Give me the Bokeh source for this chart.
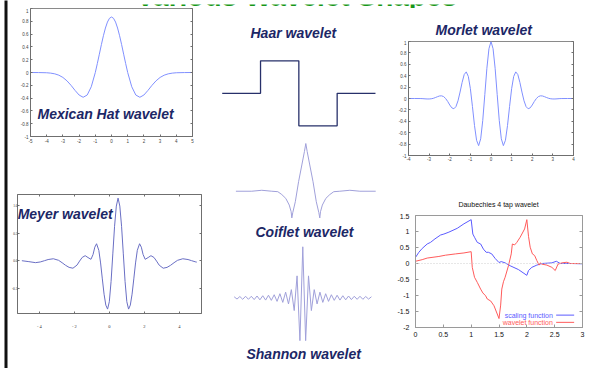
from bokeh.plotting import figure
from bokeh.models import Label, Span, LinearAxis, FixedTicker, Range1d, ColumnDataSource
from bokeh.layouts import row, column
from bokeh.embed import file_html
from bokeh.resources import INLINE

FONT = "Liberation Sans"
NAVY = "#1c2766"

# ---------------- data ----------------
MEX_X = [-5, -4.5, -4, -3.75, -3.5, -3.25, -3, -2.75, -2.5, -2.25, -2, -1.75, -1.5, -1.25, -1,
         -0.875, -0.75, -0.625, -0.5, -0.375, -0.25, -0.125, 0, 0.125, 0.25, 0.375, 0.5, 0.625,
         0.75, 0.875, 1, 1.25, 1.5, 1.75, 2, 2.25, 2.5, 2.75, 3, 3.25, 3.5, 3.75, 4, 4.5, 5]
MEX_Y = [0, -0.001, -0.004, -0.010, -0.021, -0.042, -0.077, -0.130, -0.200, -0.280, -0.352, -0.387,
         -0.352, -0.223, 0, 0.139, 0.286, 0.435, 0.574, 0.695, 0.788, 0.847, 0.867, 0.847, 0.788,
         0.695, 0.574, 0.435, 0.286, 0.139, 0, -0.223, -0.352, -0.387, -0.352, -0.280, -0.200,
         -0.130, -0.077, -0.042, -0.021, -0.010, -0.004, -0.001, 0]
MEX_XTICKS = [-5, -4, -3, -2, -1, 0, 1, 2, 3, 4, 5]
MEX_XLABELS = ["-5", "-4", "-3", "-2", "-1", "0", "1", "2", "3", "4", "5"]
MAT_YTICKS = [-1, -0.8, -0.6, -0.4, -0.2, 0, 0.2, 0.4, 0.6, 0.8, 1]
MAT_YLABELS = ["-1", "-0.8", "-0.6", "-0.4", "-0.2", "0", "0.2", "0.4", "0.6", "0.8", "1"]

HAAR_X = [-0.5, 0, 0, 0.5, 0.5, 1, 1, 1.5]
HAAR_Y = [0, 0, 1, 1, -1, -1, 0, 0]

MORLET_X = [-4.0, -3.7, -3.4, -3.3, -3.2, -3.1, -3.0, -2.9, -2.8, -2.7, -2.6, -2.5, -2.4, -2.3,
            -2.2, -2.1, -2.0, -1.9, -1.8, -1.7, -1.6, -1.5, -1.4, -1.3, -1.2, -1.1, -1.0, -0.9,
            -0.8, -0.7, -0.6, -0.5, -0.4, -0.3, -0.2, -0.1, 0.0, 0.1, 0.2, 0.3, 0.4, 0.5, 0.6,
            0.7, 0.8, 0.9, 1.0, 1.1, 1.2, 1.3, 1.4, 1.5, 1.6, 1.7, 1.8, 1.9, 2.0, 2.1, 2.2, 2.3,
            2.4, 2.5, 2.6, 2.7, 2.8, 2.9, 3.0, 3.1, 3.2, 3.3, 3.4, 3.7, 4.0]
MORLET_Y = [0.0, 0.0, -0.001, -0.003, -0.006, -0.008, -0.008, -0.005, 0.003, 0.016, 0.031, 0.044,
            0.047, 0.034, 0.0, -0.052, -0.114, -0.164, -0.180, -0.142, -0.040, 0.113, 0.283,
            0.420, 0.467, 0.387, 0.172, -0.141, -0.475, -0.733, -0.827, -0.707, -0.384, 0.068,
            0.530, 0.873, 1.0, 0.873, 0.530, 0.068, -0.384, -0.707, -0.827, -0.733, -0.475,
            -0.141, 0.172, 0.387, 0.467, 0.420, 0.283, 0.113, -0.040, -0.142, -0.180, -0.164,
            -0.114, -0.052, 0.0, 0.034, 0.047, 0.044, 0.031, 0.016, 0.003, -0.005, -0.008,
            -0.008, -0.006, -0.003, -0.001, 0.0, 0.0]
MORLET_XTICKS = [-4, -3, -2, -1, 0, 1, 2, 3, 4]
MORLET_XLABELS = ["-4", "-3", "-2", "-1", "0", "1", "2", "3", "4"]

MEYER_X = [-5.0, -4.6, -4.22, -3.95, -3.7, -3.5, -3.2, -2.9, -2.7, -2.5, -2.3, -2.08, -1.85, -1.7,
           -1.55, -1.38, -1.22, -1.05, -0.93, -0.83, -0.73, -0.6, -0.5, -0.4, -0.3, -0.2, -0.1,
           0.0, 0.1, 0.2, 0.3, 0.4, 0.5, 0.6, 0.7, 0.8, 0.9, 1.0, 1.1, 1.2, 1.3, 1.4, 1.5, 1.6,
           1.73, 1.83, 1.93, 2.05, 2.22, 2.38, 2.55, 2.7, 2.85, 3.08, 3.3, 3.5, 3.7, 3.9, 4.2,
           4.5, 4.7, 4.95, 5.0]
MEYER_Y = [0.005, -0.012, -0.03, -0.018, 0.006, 0.026, 0.04, 0.012, -0.031, -0.078, -0.115,
           -0.13, -0.075, -0.002, 0.064, 0.095, 0.062, 0.03, 0.117, 0.248, 0.31, 0.191, -0.035,
           -0.322, -0.597, -0.793, -0.865, -0.732, -0.369, 0.128, 0.624, 0.987, 1.13, 0.987,
           0.624, 0.128, -0.369, -0.732, -0.865, -0.793, -0.597, -0.322, -0.035, 0.191, 0.31,
           0.248, 0.117, 0.03, 0.062, 0.095, 0.064, -0.002, -0.075, -0.13, -0.115, -0.078,
           -0.031, 0.012, 0.04, 0.026, 0.006, -0.018, -0.02]
MEYER_XTICKS = [-4, -2, 0, 2, 4]
MEYER_XLABELS = ["- 4", "- 2", "0", "2", "4"]
MEYER_YTICKS = [-0.5, 0.0, 0.5, 1.0]
MEYER_YLABELS = ["-0.5", "0.0", "0.5", "1.0"]

COIF_X = [-3.0, -2.32, -1.89, -1.46, -1.20, -1.03, -0.86, -0.71, -0.63, -0.60, -0.56, -0.45, -0.31,
          -0.17, -0.06, 0, 0.06, 0.17, 0.31, 0.45, 0.56, 0.60, 0.63, 0.71, 0.86, 1.03, 1.20, 1.46,
          1.89, 2.32, 3.0]
COIF_Y = [0, 0, 0.02, 0, -0.01, -0.07, -0.15, -0.29, -0.43, -0.56, -0.45, -0.22, 0.20, 0.55, 0.83,
          1.0, 0.83, 0.55, 0.20, -0.22, -0.45, -0.56, -0.43, -0.29, -0.15, -0.07, -0.01, 0, 0.02,
          0, 0]

SHAN_X = [-24, -23, -22, -21, -20, -19, -18, -17, -16, -15, -14, -13, -12, -11, -10, -9, -8, -7,
          -6, -5, -4, -3, -2, -1, 0, 1, 2, 3, 4, 5, 6, 7, 8, 9, 10, 11, 12, 13, 14, 15, 16, 17,
          18, 19, 20, 21, 22, 23, 24]
SHAN_Y = [0.02, -0.025, 0.025, -0.03, 0.03, -0.03, 0.03, -0.035, 0.035, -0.04, 0.04, -0.045,
          0.05, -0.05, 0.06, -0.07, 0.08, -0.09, 0.11, -0.12, 0.16, -0.25, 0.43, -0.84, 1.0,
          -0.84, 0.43, -0.25, 0.16, -0.12, 0.11, -0.09, 0.08, -0.07, 0.06, -0.05, 0.05, -0.045,
          0.04, -0.04, 0.035, -0.035, 0.03, -0.03, 0.03, -0.03, 0.025, -0.025, 0.02]

DB_SX = [0, 0.06, 0.12, 0.21, 0.27, 0.35, 0.45, 0.51, 0.6, 0.75, 0.87, 1.0, 1.03, 1.06, 1.11,
         1.17, 1.22, 1.27, 1.31, 1.37, 1.43, 1.5, 1.54, 1.61, 1.7, 1.85, 2.0, 2.03, 2.09, 2.18,
         2.27, 2.45, 2.53, 2.6, 2.8, 3.0]
DB_SY = [0.19, 0.35, 0.47, 0.61, 0.66, 0.77, 0.89, 0.92, 0.98, 1.10, 1.24, 1.37, 0.92, 0.82,
         0.66, 0.61, 0.45, 0.35, 0.35, 0.30, 0.16, 0.03, 0.06, 0.02, -0.07, -0.19, -0.37, -0.22,
         -0.12, -0.05, 0.0, 0.02, 0.07, 0.0, 0.0, -0.01]
DB_WX = [0, 0.12, 0.21, 0.42, 0.54, 0.72, 0.87, 1.0, 1.02, 1.06, 1.11, 1.17, 1.21, 1.26, 1.29,
         1.35, 1.41, 1.5, 1.53, 1.55, 1.58, 1.61, 1.67, 1.72, 1.74, 1.78, 1.82, 1.88, 1.96, 2.0,
         2.03, 2.06, 2.1, 2.14, 2.18, 2.22, 2.24, 2.27, 2.36, 2.45, 2.51, 2.56, 2.63, 2.72, 2.78,
         3.0]
DB_WY = [0.07, 0.12, 0.17, 0.22, 0.26, 0.30, 0.33, 0.37, -0.12, -0.43, -0.59, -0.80, -0.92,
         -1.01, -1.11, -1.17, -1.32, -1.72, -1.30, -0.80, -0.57, -0.43, -0.07, 0.30, 0.61, 0.58,
         0.66, 0.82, 1.08, 1.37, 0.85, 0.51, 0.30, 0.25, 0.09, -0.05, 0.02, -0.02, -0.05, -0.12,
         -0.22, -0.02, 0.02, 0.04, 0.0, 0.0]
DB_XTICKS = [0, 0.5, 1, 1.5, 2, 2.5, 3]
DB_XLABELS = ["0", "0.5", "1", "1.5", "2", "2.5", "3"]
DB_YTICKS = [-2, -1.5, -1, -0.5, 0, 0.5, 1, 1.5]
DB_YLABELS = ["-2", "-1.5", "-1", "-0.5", "0", "0.5", "1", "1.5"]
DB_LEGEND = ["scaling function", "wavelet function"]


# ---------------- helpers ----------------
def make_fig(w, h, xr, yr, left=0, right=0, top=0, bottom=0, outline=None):
    p = figure(width=w, height=h, x_range=Range1d(*xr), y_range=Range1d(*yr),
               x_axis_type=None, y_axis_type=None, output_backend="svg",
               toolbar_location=None, min_border=0, min_border_left=left,
               min_border_right=right, min_border_top=top, min_border_bottom=bottom,
               frame_align=False)
    p.outline_line_color = outline
    p.background_fill_color = "white"
    p.border_fill_color = "white"
    return p


def add_axis(p, side, ticks, labels, color="#6f6f6f", label_color="#444444", size="4.5px",
             font=FONT, standoff=2, tick_in=2, tick_out=0, show=True):
    ax = LinearAxis(ticker=FixedTicker(ticks=ticks))
    ax.major_label_overrides = {t: l for t, l in zip(ticks, labels)}
    ax.axis_line_color = color
    ax.major_tick_line_color = color
    ax.major_tick_in = tick_in
    ax.major_tick_out = tick_out
    ax.minor_tick_line_color = None
    ax.major_label_text_font = font
    ax.axis_label_standoff = 0
    if show:
        ax.major_label_text_color = label_color
        ax.major_label_text_font_size = size
        ax.major_label_standoff = standoff
    else:
        ax.major_label_text_color = None
        ax.major_label_text_font_size = "1px"
        ax.major_label_standoff = 0
    p.add_layout(ax, side)
    return ax


def name_label(p, x, y, text, size="14px", align="left"):
    p.add_layout(Label(x=x, y=y, text=text, text_font=FONT, text_font_size=size,
                       text_font_style="bold italic", text_color=NAVY, text_align=align))


# ---------------- left black bar ----------------
bar = figure(width=8, height=368, x_axis_type=None, y_axis_type=None, output_backend="svg",
             toolbar_location=None, min_border=0, min_border_left=4, min_border_right=1,
             frame_align=False)
bar.background_fill_color = "#111111"
bar.border_fill_color = "white"
bar.outline_line_color = None

# ---------------- title strip ----------------
title = make_fig(590, 8, (0, 590), (0, 8))
title.add_layout(Label(x=288, y=0.5, text="Various Wavelet Shapes", text_font=FONT,
                       text_font_size="28px", text_font_style="bold", text_color="#189618",
                       text_align="center"))

# ---------------- Mexican hat ----------------
mex = make_fig(200, 149, (-5, 5), (-1, 1), left=22, right=16, top=0, bottom=21,
               outline="#8a8a8a")
mex.line(MEX_X, MEX_Y, line_color="#8090ff", line_width=1)
add_axis(mex, "below", MEX_XTICKS, MEX_XLABELS, standoff=2)
add_axis(mex, "left", MAT_YTICKS, MAT_YLABELS, standoff=2)
add_axis(mex, "right", MAT_YTICKS, MAT_YLABELS, show=False)
name_label(mex, -4.57, -0.781, "Mexican Hat wavelet")

# ---------------- Meyer ----------------
meyer = make_fig(200, 211, (-5.25, 5.27), (-0.944, 1.195), left=5, right=7, top=37, bottom=55,
                 outline="#8a8a8a")
meyer.line(MEYER_X, MEYER_Y, line_color="#6a6fc4", line_width=1)
add_axis(meyer, "below", MEYER_XTICKS, MEYER_XLABELS, font="Liberation Serif", size="4.5px",
         standoff=10, label_color="#333333")
add_axis(meyer, "left", MEYER_YTICKS, MEYER_YLABELS, font="Liberation Serif", size="3.5px",
         standoff=0, label_color="#333333")
add_axis(meyer, "right", MEYER_YTICKS, MEYER_YLABELS, show=False)
add_axis(meyer, "above", MEYER_XTICKS, MEYER_XLABELS, show=False)
name_label(meyer, -5.24, 0.696, "Meyer wavelet")

# ---------------- Haar ----------------
haar = make_fig(180, 122, (-0.679, 1.67), (-1.145, 2.609))
haar.line(HAAR_X, HAAR_Y, line_color="#27306a", line_width=1.3)
name_label(haar, -0.131, 1.624, "Haar wavelet")

# ---------------- Coiflet ----------------
coif = make_fig(180, 112, (-4.176, 3.549), (-1.075, 1.273))
coif.line(COIF_X, COIF_Y, line_color="#a0a0da", line_width=1)
name_label(coif, -2.159, -1.023, "Coiflet wavelet")

# ---------------- Shannon ----------------
shan = make_fig(180, 126, (-32.97, 29.97), (-1.386, 1.084))
shan.line(SHAN_X, SHAN_Y, line_color="#a0a0da", line_width=1)
name_label(shan, -19.69, -1.263, "Shannon wavelet")

# ---------------- Morlet ----------------
mor_title = make_fig(210, 32, (0, 210), (0, 32))
name_label(mor_title, 47, 3, "Morlet wavelet")

mor = make_fig(210, 158, (-4, 4), (-1, 1), left=20, right=25, top=1, bottom=43,
               outline="#8a8a8a")
mor.line(MORLET_X, MORLET_Y, line_color="#8090ff", line_width=1)
add_axis(mor, "below", MORLET_XTICKS, MORLET_XLABELS, standoff=1)
add_axis(mor, "left", MAT_YTICKS, MAT_YLABELS, standoff=2)
add_axis(mor, "right", MAT_YTICKS, MAT_YLABELS, show=False)

# ---------------- Daubechies ----------------
db_title = make_fig(210, 15, (0, 210), (0, 15))
db_title.add_layout(Label(x=110, y=5.7, text="Daubechies 4 tap wavelet", text_font=FONT,
                          text_font_size="7px", text_color="#111111", text_align="center"))

db = make_fig(210, 155, (0, 3), (-2, 1.5), left=27, right=16, top=2, bottom=41,
              outline="#9a9a9a")
db.add_layout(Span(location=0, dimension="width", line_color="#cfcfcf", line_width=1,
                   line_dash="1 2"))
db.line(DB_SX, DB_SY, line_color="#5b5bff", line_width=1)
db.line(DB_WX, DB_WY, line_color="#ff5b5b", line_width=1)
add_axis(db, "below", DB_XTICKS, DB_XLABELS, color="#9a9a9a", label_color="#111111",
         size="7px", standoff=4, tick_in=3)
add_axis(db, "left", DB_YTICKS, DB_YLABELS, color="#9a9a9a", label_color="#111111",
         size="7px", standoff=6, tick_in=3)
add_axis(db, "right", DB_YTICKS, DB_YLABELS, color="#9a9a9a", show=False, tick_in=3)
legend_colors = ["#5b5bff", "#ff5b5b"]
legend_y = [-1.613, -1.839]
for txt, col, ly in zip(DB_LEGEND, legend_colors, legend_y):
    db.add_layout(Label(x=2.468, y=ly, text=txt, text_font=FONT, text_font_size="7px",
                        text_color=col, text_align="right", text_baseline="middle"))
leg_src = ColumnDataSource(dict(x0=[2.527, 2.527], x1=[2.85, 2.85], y=legend_y,
                                c=legend_colors))
db.segment(x0="x0", y0="y", x1="x1", y1="y", line_color="c", line_width=1, source=leg_src)

# ---------------- layout ----------------
col_a = column(mex, meyer, spacing=0)
col_b = column(haar, coif, shan, spacing=0)
col_c = column(mor_title, mor, db_title, db, spacing=0)
body = column(title, row(col_a, col_b, col_c, spacing=0), spacing=0)
root = row(bar, body, spacing=0)

open("out.html", "w").write(file_html(root, INLINE, "Various Wavelet Shapes"))
